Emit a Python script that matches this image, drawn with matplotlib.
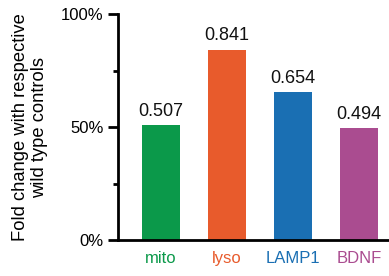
import matplotlib
matplotlib.use("Agg")
import matplotlib.pyplot as plt
from matplotlib.ticker import PercentFormatter, MultipleLocator

categories = ["mito", "lyso", "LAMP1", "BDNF"]
values = [0.507, 0.841, 0.654, 0.494]
value_labels = ["0.507", "0.841", "0.654", "0.494"]
colors = ["#0b994a", "#e85b2c", "#1a6fb3", "#aa4c90"]
ylabel = "Fold change with respective\nwild type controls"

plt.rcParams['font.family'] = ['Liberation Sans', 'DejaVu Sans']

W, H = 389, 276
fig = plt.figure(figsize=(W/100, H/100), dpi=100)
ax = fig.add_axes([118/W, 1-240/H, (W-118)/W, (240-14)/H])

x = list(range(len(categories)))
ax.bar(x, values, width=0.58, color=colors)
for xi, v, lab in zip(x, values, value_labels):
    ax.text(xi, v + 0.025, lab, ha='center', va='bottom', fontsize=13, color='#111111')

ax.set_xlim(-0.65, 3.45)
ax.set_ylim(0, 1.0)
ax.yaxis.set_major_locator(MultipleLocator(0.5))
ax.yaxis.set_minor_locator(MultipleLocator(0.25))
ax.yaxis.set_major_formatter(PercentFormatter(1.0, decimals=0))
for s in ['top', 'right']:
    ax.spines[s].set_visible(False)
for s in ['left', 'bottom']:
    ax.spines[s].set_linewidth(2)
    ax.spines[s].set_color('black')
ax.spines['left'].set_bounds(0, 1.0)
ax.tick_params(axis='y', which='major', length=7.2, width=2, labelsize=12, pad=3)
ax.tick_params(axis='y', which='minor', length=3.6, width=2)
ax.tick_params(axis='x', length=0, pad=8)
ax.set_xticks(x)
ax.set_xticklabels(categories, fontsize=12)
for t, c in zip(ax.get_xticklabels(), colors):
    t.set_color(c)
ax.patch.set_alpha(0)

# y label placed explicitly, fitted to the reference length
yl = fig.text(30/W, 1-127/H, ylabel, rotation=90, ha='center', va='center',
              fontsize=12, linespacing=1.1, multialignment='center')
fig.canvas.draw()
r = fig.canvas.get_renderer()
ext = yl.get_window_extent(r)
yl.set_fontsize(12 * 228.0 / ext.height)

fig.savefig("out.png", dpi=100)
